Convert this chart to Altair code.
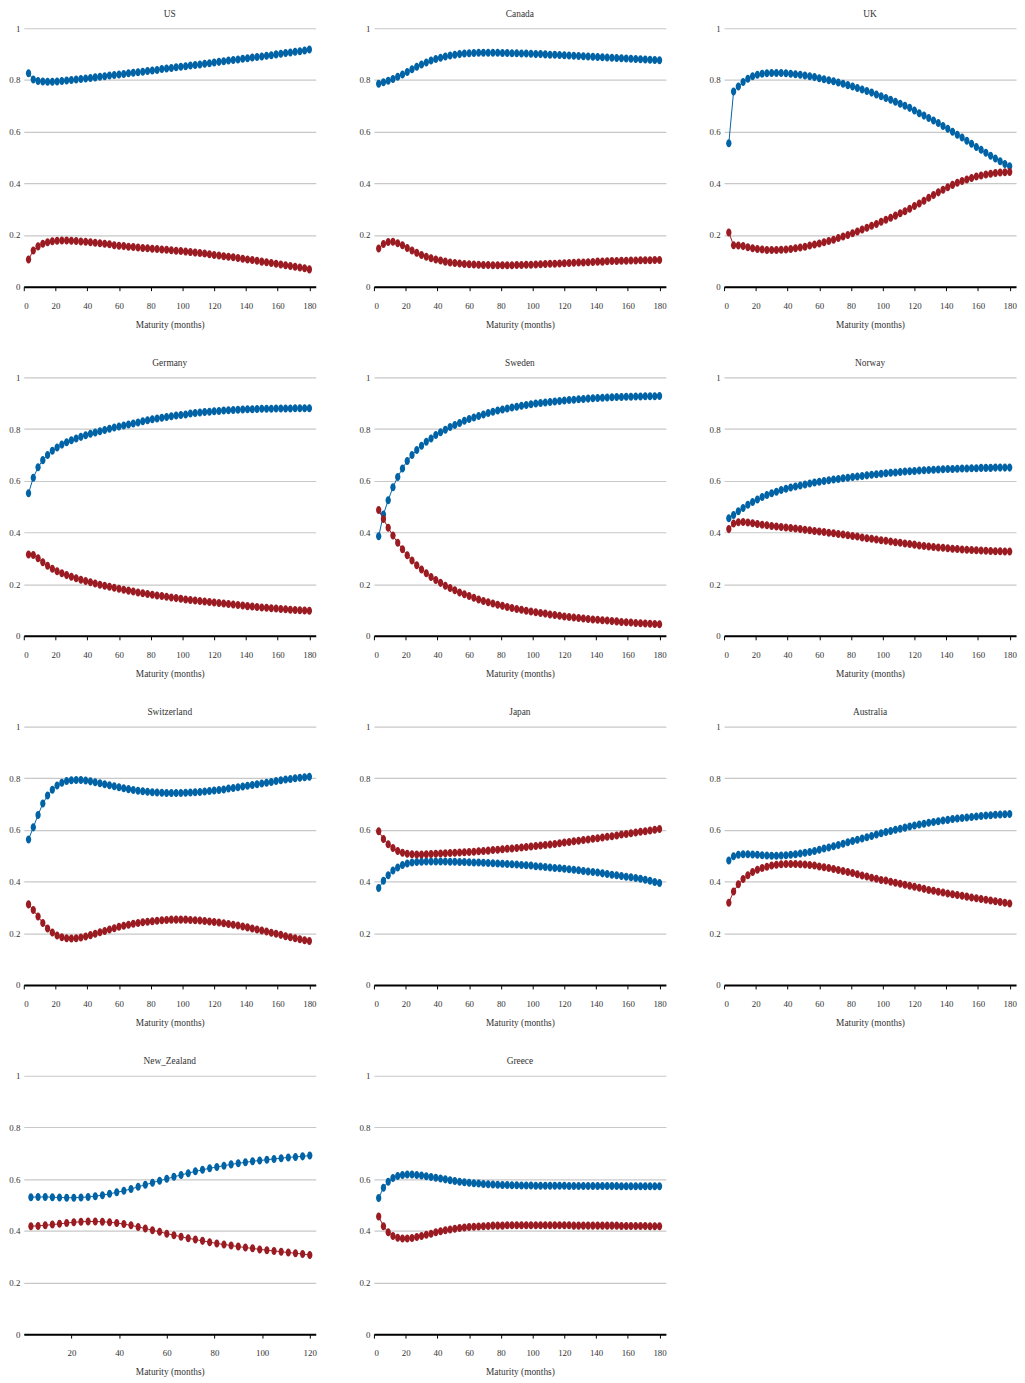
import altair as alt
import pandas as pd

# ---------------- data ----------------
countries = ["US", "Canada", "UK", "Germany", "Sweden", "Norway",
             "Switzerland", "Japan", "Australia", "New_Zealand", "Greece"]

maturity_180 = list(range(3, 181, 3))   # 3 .. 180 months
maturity_120 = list(range(3, 121, 3))   # 3 .. 120 months (New Zealand)

us_blue = [.826, .802, .796, .794, .793, .793, .794, .796, .798, .800, .802, .804, .806, .808, .810,
           .812, .814, .817, .819, .821, .823, .826, .828, .830, .832, .835, .837, .839, .842, .844,
           .846, .849, .851, .853, .856, .858, .860, .863, .865, .868, .870, .872, .875, .877, .879,
           .882, .884, .887, .889, .891, .894, .896, .899, .901, .904, .906, .909, .911, .914, .918]
us_red = [.105, .140, .156, .166, .172, .176, .178, .179, .179, .178, .177, .175, .174, .172, .170,
          .168, .166, .164, .160, .158, .157, .155, .154, .152, .150, .149, .147, .146, .144, .143,
          .141, .139, .138, .136, .134, .132, .130, .128, .126, .123, .121, .118, .116, .114, .111,
          .108, .105, .103, .100, .097, .095, .092, .089, .086, .083, .080, .077, .074, .071, .067]

canada_blue = [.785, .791, .797, .804, .812, .821, .831, .841, .851, .860, .868, .875, .881, .886, .891,
               .895, .898, .900, .902, .903, .904, .905, .905, .905, .905, .905, .904, .904, .903, .903,
               .902, .902, .901, .900, .900, .899, .898, .898, .897, .896, .895, .894, .893, .892, .891,
               .890, .889, .888, .887, .886, .885, .884, .883, .882, .881, .880, .879, .878, .877, .876]
canada_red = [.148, .165, .173, .174, .168, .160, .150, .140, .131, .123, .116, .110, .105, .101, .097,
              .094, .092, .090, .088, .087, .086, .085, .084, .084, .083, .083, .083, .083, .083, .084,
              .084, .085, .085, .086, .087, .088, .089, .089, .090, .091, .092, .093, .094, .094, .095,
              .096, .097, .097, .098, .099, .099, .100, .100, .101, .101, .102, .102, .102, .103, .103]

uk_blue = [.555, .755, .775, .792, .805, .814, .820, .824, .826, .827, .827, .827, .826, .824, .822,
           .820, .817, .814, .811, .807, .803, .799, .795, .790, .785, .780, .775, .769, .763, .757,
           .751, .744, .737, .730, .723, .716, .708, .700, .692, .682, .671, .662, .653, .643, .633,
           .622, .611, .600, .588, .577, .565, .553, .541, .530, .518, .507, .496, .485, .475, .466]
uk_red = [.210, .160, .159, .157, .153, .149, .146, .144, .142, .142, .142, .143, .144, .146, .149,
          .152, .155, .159, .163, .167, .172, .177, .182, .188, .194, .200, .207, .214, .221, .228,
          .236, .243, .251, .259, .267, .275, .284, .292, .302, .312, .322, .333, .344, .355, .365,
          .375, .385, .394, .402, .409, .415, .421, .426, .430, .434, .437, .440, .442, .443, .444]

germany_blue = [.552, .612, .652, .680, .700, .716, .729, .740, .749, .757, .764, .770, .776, .782, .787,
                .792, .797, .801, .806, .810, .814, .818, .822, .826, .830, .834, .838, .841, .844, .847,
                .850, .853, .855, .857, .860, .862, .864, .866, .867, .869, .870, .872, .873, .874, .875,
                .876, .877, .877, .878, .879, .879, .879, .880, .880, .880, .880, .881, .881, .881, .881]
germany_red = [.315, .313, .300, .285, .271, .260, .250, .242, .235, .229, .223, .217, .212, .207, .203,
               .198, .194, .190, .186, .182, .178, .175, .172, .168, .165, .162, .159, .156, .154, .151,
               .148, .146, .144, .141, .139, .137, .135, .133, .131, .129, .127, .125, .123, .121, .119,
               .117, .115, .114, .112, .110, .109, .107, .106, .104, .103, .101, .100, .099, .098, .097]

sweden_blue = [.385, .470, .525, .575, .615, .648, .677, .700, .719, .736, .751, .764, .777, .788, .798,
               .808, .816, .824, .832, .839, .845, .851, .857, .862, .867, .872, .876, .880, .884, .887,
               .890, .893, .896, .899, .901, .903, .905, .907, .909, .911, .913, .914, .916, .917, .918,
               .919, .920, .921, .922, .923, .924, .924, .925, .925, .926, .926, .927, .927, .927, .928]
sweden_red = [.487, .452, .418, .388, .360, .335, .312, .292, .273, .257, .242, .228, .216, .205, .194,
              .185, .176, .168, .161, .154, .147, .141, .135, .130, .125, .120, .116, .112, .108, .104,
              .101, .097, .094, .091, .088, .086, .083, .081, .078, .075, .073, .071, .069, .067, .065,
              .063, .062, .060, .059, .057, .056, .054, .053, .052, .050, .049, .048, .047, .046, .045]

norway_blue = [.455, .468, .482, .495, .507, .518, .528, .537, .545, .552, .558, .564, .569, .574, .578,
               .582, .586, .590, .593, .596, .599, .602, .605, .607, .610, .612, .615, .617, .619, .621,
               .623, .625, .627, .629, .631, .632, .634, .636, .637, .638, .640, .641, .642, .643, .644,
               .645, .646, .646, .647, .648, .648, .649, .649, .650, .650, .650, .651, .651, .651, .651]
norway_red = [.413, .435, .440, .441, .439, .436, .433, .430, .428, .425, .423, .421, .419, .417, .415,
              .413, .411, .409, .406, .404, .402, .399, .397, .394, .392, .389, .386, .384, .381, .378,
              .376, .373, .370, .368, .365, .362, .360, .357, .355, .353, .350, .348, .346, .344, .342,
              .341, .339, .337, .336, .334, .333, .332, .331, .330, .329, .328, .327, .327, .326, .326]

switzerland_blue = [.563, .610, .658, .702, .733, .756, .772, .783, .789, .792, .793, .793, .791, .788, .785,
                    .781, .777, .773, .769, .765, .761, .758, .755, .752, .750, .748, .746, .745, .744, .743,
                    .743, .743, .743, .744, .745, .746, .747, .749, .751, .753, .755, .757, .760, .762, .765,
                    .768, .771, .774, .777, .780, .783, .786, .789, .792, .795, .797, .800, .802, .804, .806]
switzerland_red = [.312, .290, .265, .240, .219, .203, .192, .185, .181, .180, .181, .184, .188, .193, .198,
                   .204, .209, .215, .220, .225, .229, .233, .237, .240, .243, .245, .247, .249, .251, .252,
                   .253, .253, .253, .253, .252, .251, .250, .248, .246, .244, .242, .239, .236, .233, .230,
                   .226, .223, .219, .215, .211, .207, .202, .198, .194, .189, .185, .181, .177, .173, .170]

japan_blue = [.375, .403, .425, .443, .455, .464, .470, .474, .476, .477, .478, .478, .478, .478, .478,
              .477, .477, .476, .476, .475, .474, .474, .473, .472, .471, .470, .469, .468, .467, .466,
              .464, .463, .462, .460, .459, .457, .455, .453, .452, .450, .448, .446, .444, .441, .439,
              .437, .435, .432, .430, .427, .425, .422, .419, .417, .414, .411, .407, .403, .399, .395]
japan_red = [.595, .565, .545, .530, .519, .512, .508, .506, .505, .505, .506, .507, .508, .509, .510,
             .511, .512, .513, .514, .515, .516, .518, .519, .520, .522, .523, .525, .527, .528, .530,
             .532, .534, .536, .538, .540, .542, .544, .546, .549, .551, .553, .556, .558, .561, .563,
             .566, .568, .571, .574, .576, .579, .582, .584, .587, .590, .593, .595, .598, .601, .604]

australia_blue = [.482, .498, .504, .506, .506, .505, .504, .502, .501, .500, .500, .501, .502, .504, .506,
                  .509, .512, .515, .519, .523, .528, .532, .537, .542, .547, .552, .557, .562, .567, .572,
                  .577, .582, .587, .592, .596, .601, .605, .609, .613, .617, .621, .624, .628, .631, .634,
                  .637, .639, .642, .644, .646, .648, .650, .652, .654, .656, .657, .659, .660, .661, .662]
australia_red = [.318, .362, .390, .410, .425, .437, .446, .453, .458, .462, .465, .467, .468, .468, .468,
                 .467, .466, .464, .462, .459, .456, .453, .449, .445, .441, .437, .433, .429, .424, .420,
                 .415, .411, .406, .404, .400, .396, .392, .388, .384, .380, .376, .372, .368, .365, .361,
                 .358, .354, .351, .348, .345, .342, .339, .336, .333, .330, .327, .324, .321, .318, .315]

new_zealand_blue = [.530, .531, .531, .530, .529, .528, .528, .529, .531, .534, .538, .543, .549, .555, .562,
                    .570, .578, .586, .594, .601, .609, .616, .623, .630, .636, .642, .647, .652, .657, .661,
                    .665, .669, .672, .675, .678, .681, .684, .686, .688, .691]
new_zealand_red = [.418, .419, .421, .424, .427, .430, .433, .435, .436, .436, .435, .433, .430, .426, .421,
                   .415, .409, .402, .396, .389, .383, .377, .371, .366, .361, .356, .351, .347, .343, .339,
                   .335, .332, .328, .325, .322, .319, .316, .313, .310, .306]

greece_blue = [.527, .567, .590, .604, .612, .616, .618, .618, .616, .614, .611, .608, .605, .602, .599,
               .596, .593, .590, .588, .586, .584, .583, .581, .580, .579, .578, .577, .577, .576, .576,
               .575, .575, .575, .574, .574, .574, .574, .574, .574, .574, .573, .573, .573, .573, .573,
               .573, .573, .573, .573, .573, .573, .572, .572, .572, .572, .572, .572, .572, .572, .572]
greece_red = [.455, .418, .394, .380, .373, .370, .370, .372, .376, .380, .385, .389, .394, .398, .402,
              .405, .408, .411, .413, .415, .416, .417, .418, .419, .420, .420, .420, .421, .421, .421,
              .421, .421, .421, .421, .421, .421, .421, .421, .421, .421, .421, .420, .420, .420, .420,
              .420, .420, .420, .420, .420, .420, .419, .419, .419, .419, .419, .419, .418, .418, .418]

series_blue = [us_blue, canada_blue, uk_blue, germany_blue, sweden_blue, norway_blue,
               switzerland_blue, japan_blue, australia_blue, new_zealand_blue, greece_blue]
series_red = [us_red, canada_red, uk_red, germany_red, sweden_red, norway_red,
              switzerland_red, japan_red, australia_red, new_zealand_red, greece_red]

series_names = ["Series 1", "Series 2"]
series_colors = ["#0063a6", "#9b1b22"]

y_ticks = [0, 0.2, 0.4, 0.6, 0.8, 1]
x_ticks_180 = [0, 20, 40, 60, 80, 100, 120, 140, 160, 180]
x_ticks_120 = [20, 40, 60, 80, 100, 120]

FONT = "Liberation Serif"
ELLIPSE = "M -0.66 0 A 0.66 1 0 1 0 0.66 0 A 0.66 1 0 1 0 -0.66 0 Z"

panels = []
for name, blue, red in zip(countries, series_blue, series_red):
    mats = maturity_120 if len(blue) == len(maturity_120) else maturity_180
    rows = []
    for m, v in zip(mats, blue):
        rows.append({"maturity": m, "value": v, "series": series_names[0]})
    for m, v in zip(mats, red):
        rows.append({"maturity": m, "value": v, "series": series_names[1]})
    df = pd.DataFrame(rows)

    if len(mats) == len(maturity_120):
        xdom, xvals = [0, 122.5], x_ticks_120
    else:
        xdom, xvals = [0, 184], x_ticks_180

    x = alt.X("maturity:Q",
              scale=alt.Scale(domain=xdom, nice=False, zero=False),
              axis=alt.Axis(values=xvals, title="Maturity (months)", grid=False,
                            domainColor="#000000", domainWidth=2, tickColor="#000000",
                            tickSize=4, labelPadding=11, titlePadding=9))
    y = alt.Y("value:Q",
              scale=alt.Scale(domain=[0, 1], nice=False),
              axis=alt.Axis(values=y_ticks, format="~g", title=None, domain=False,
                            ticks=False, grid=True, gridColor="#c8c8c8", gridWidth=1.2,
                            labelPadding=4))
    color = alt.Color("series:N",
                      scale=alt.Scale(domain=series_names, range=series_colors),
                      legend=None)
    base = alt.Chart(df).encode(x=x, y=y, color=color, detail="series:N")
    layer = alt.layer(
        base.mark_line(strokeWidth=1),
        base.mark_point(shape=ELLIPSE, filled=True, size=66, opacity=1),
    ).properties(
        width=296, height=262,
        title=alt.TitleParams(name, fontSize=9.5, fontWeight="normal", font=FONT,
                              color="#333333", anchor="middle", offset=6),
    )
    panels.append(layer)

chart = alt.concat(*panels, columns=3, spacing={"row": 29, "column": 42}).properties(
    padding={"left": 0, "top": -9, "right": 0, "bottom": 0}
).configure_view(stroke=None).configure_axis(
    labelFont=FONT, titleFont=FONT, labelFontSize=9, titleFontSize=9.5,
    labelColor="#333333", titleColor="#333333", titleFontWeight="normal",
)

chart.save("out.html", embed_options={"renderer": "svg", "actions": False})
